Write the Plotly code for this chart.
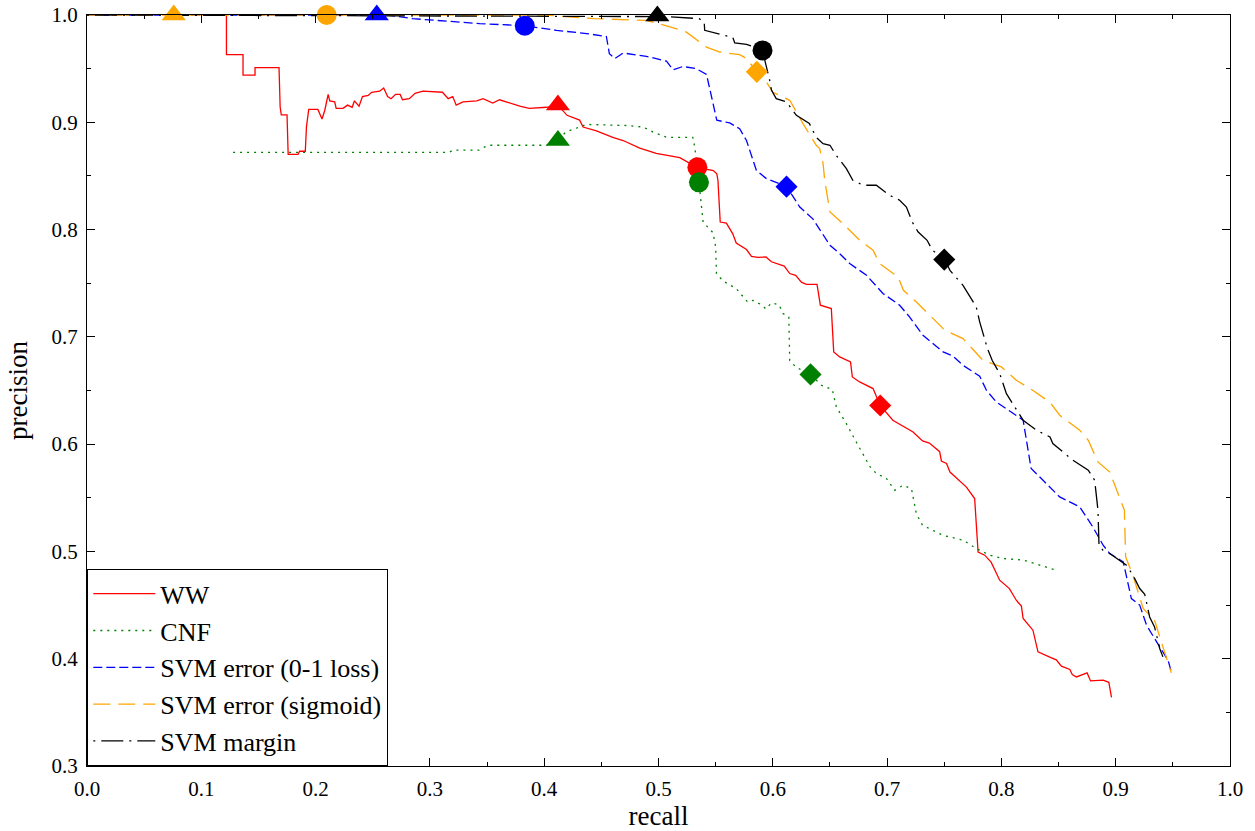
import plotly.graph_objects as go

# ---- data ----
ww_x = [0.118,0.122,0.122,0.1365,0.1365,0.147,0.147,0.168,0.169,0.170,0.175,0.176,0.1846,0.186,0.191,0.192,0.194,0.202,0.2056,0.208,0.211,0.2124,0.2167,0.218,0.224,0.228,0.232,0.234,0.238,0.241,0.246,0.249,0.256,0.2596,0.263,0.266,0.270,0.274,0.276,0.282,0.287,0.294,0.311,0.316,0.320,0.323,0.329,0.341,0.3465,0.355,0.361,0.3786,0.387,0.402,0.412,0.420,0.431,0.434,0.4457,0.460,0.469,0.4836,0.498,0.510,0.5186,0.5337,0.548,0.551,0.552,0.554,0.5594,0.565,0.568,0.577,0.5813,0.587,0.594,0.5988,0.610,0.6148,0.620,0.625,0.6294,0.6387,0.6416,0.6512,0.6533,0.6585,0.668,0.6696,0.676,0.6877,0.691,0.694,0.705,0.7196,0.7227,0.731,0.737,0.746,0.7475,0.752,0.755,0.7694,0.7766,0.7796,0.7854,0.791,0.7985,0.807,0.813,0.8175,0.819,0.8276,0.832,0.8433,0.848,0.8525,0.8599,0.862,0.8656,0.875,0.878,0.889,0.894,0.8963]
ww_y = [1.0,1.0,0.963,0.963,0.944,0.944,0.951,0.951,0.914,0.907,0.907,0.870,0.870,0.873,0.873,0.896,0.912,0.912,0.903,0.911,0.926,0.920,0.919,0.913,0.913,0.916,0.914,0.920,0.915,0.924,0.925,0.928,0.929,0.932,0.924,0.922,0.926,0.926,0.921,0.922,0.927,0.929,0.928,0.922,0.924,0.916,0.919,0.920,0.922,0.918,0.921,0.915,0.913,0.914,0.916,0.9065,0.902,0.8956,0.892,0.886,0.883,0.876,0.871,0.869,0.867,0.858,0.855,0.852,0.846,0.807,0.806,0.796,0.7875,0.7814,0.775,0.774,0.7745,0.770,0.766,0.759,0.7574,0.751,0.749,0.749,0.7295,0.7264,0.686,0.6813,0.6766,0.6626,0.658,0.6518,0.644,0.636,0.6223,0.6136,0.6114,0.603,0.601,0.593,0.5843,0.582,0.574,0.560,0.5493,0.4995,0.4965,0.490,0.4732,0.4654,0.4545,0.449,0.4375,0.4266,0.4064,0.401,0.399,0.393,0.390,0.3853,0.383,0.3868,0.3793,0.380,0.378,0.3639]

cnf_x = [0.1278,0.317,0.320,0.343,0.348,0.352,0.402,0.412,0.419,0.437,0.472,0.4865,0.495,0.507,0.530,0.5317,0.5354,0.5375,0.539,0.5477,0.55,0.5507,0.5565,0.568,0.578,0.5827,0.590,0.594,0.5988,0.6054,0.609,0.614,0.6148,0.6206,0.6329,0.6425,0.652,0.6556,0.6644,0.673,0.685,0.6906,0.6994,0.7067,0.714,0.7213,0.7256,0.731,0.749,0.7664,0.778,0.790,0.8014,0.819,0.8335,0.848]
cnf_y = [0.872,0.872,0.874,0.874,0.877,0.8786,0.8786,0.8832,0.891,0.898,0.897,0.8956,0.891,0.886,0.886,0.877,0.8444,0.8242,0.807,0.797,0.784,0.759,0.752,0.745,0.7325,0.734,0.730,0.726,0.7316,0.730,0.7217,0.7186,0.678,0.6714,0.6652,0.6549,0.651,0.6347,0.619,0.602,0.579,0.5726,0.568,0.557,0.5617,0.5586,0.535,0.5244,0.515,0.5105,0.5027,0.4965,0.4934,0.492,0.487,0.4825]

svm01_x = [0.0,0.262,0.285,0.3436,0.383,0.4107,0.437,0.4544,0.457,0.4617,0.469,0.4894,0.507,0.5127,0.5214,0.533,0.542,0.5448,0.551,0.5623,0.571,0.577,0.5857,0.5944,0.606,0.612,0.6236,0.635,0.650,0.6585,0.6673,0.682,0.6964,0.711,0.7196,0.7314,0.749,0.7577,0.7664,0.781,0.787,0.7956,0.819,0.826,0.8364,0.851,0.8685,0.880,0.889,0.8948,0.9066,0.9137,0.921,0.927,0.9385,0.9458,0.9487]
svm01_y = [1.0,1.0,0.9966,0.992,0.990,0.9857,0.9827,0.980,0.964,0.9594,0.9646,0.9615,0.957,0.949,0.952,0.950,0.9447,0.9314,0.9019,0.8994,0.894,0.883,0.855,0.8475,0.843,0.8404,0.821,0.810,0.7854,0.7776,0.7683,0.7574,0.7404,0.7295,0.7186,0.7015,0.686,0.682,0.6735,0.6633,0.650,0.6393,0.6223,0.5773,0.5663,0.5508,0.5416,0.5228,0.5058,0.498,0.4902,0.4561,0.450,0.4312,0.411,0.3986,0.3877]

sig_x = [0.0,0.40,0.4435,0.4894,0.5186,0.5244,0.542,0.5536,0.571,0.577,0.586,0.5944,0.600,0.609,0.6148,0.6264,0.638,0.641,0.644,0.6454,0.650,0.6614,0.676,0.6877,0.6935,0.7096,0.7143,0.7256,0.737,0.7505,0.7664,0.7839,0.800,0.813,0.8277,0.8425,0.851,0.8685,0.876,0.8845,0.8948,0.9076,0.9087,0.9151,0.924,0.934,0.9413,0.9487]
sig_y = [1.0,1.0,0.9966,0.995,0.9864,0.984,0.970,0.9655,0.963,0.9594,0.9469,0.9376,0.928,0.9236,0.9205,0.8988,0.8786,0.8755,0.8615,0.846,0.8164,0.8056,0.790,0.7807,0.7683,0.7558,0.7434,0.7325,0.720,0.7062,0.6984,0.678,0.672,0.6596,0.650,0.639,0.627,0.613,0.6036,0.5834,0.574,0.5384,0.4949,0.4778,0.4468,0.4359,0.411,0.3868]

marg_x = [0.0,0.507,0.5355,0.540,0.5404,0.5507,0.565,0.5667,0.577,0.5909,0.5958,0.5973,0.5988,0.603,0.612,0.6206,0.632,0.638,0.644,0.650,0.6556,0.6644,0.670,0.679,0.6906,0.702,0.711,0.7169,0.722,0.727,0.735,0.7396,0.7504,0.755,0.7664,0.778,0.781,0.7878,0.792,0.7985,0.8044,0.819,0.8306,0.8425,0.845,0.8626,0.876,0.8816,0.8845,0.8854,0.889,0.8948,0.9094,0.9151,0.921,0.9254,0.9297,0.934,0.9385,0.9413]
marg_y = [1.0,0.9985,0.9966,0.9935,0.9857,0.983,0.979,0.974,0.9727,0.9671,0.947,0.939,0.930,0.922,0.919,0.9065,0.8988,0.886,0.880,0.8786,0.869,0.8568,0.846,0.8413,0.8413,0.832,0.8273,0.821,0.807,0.798,0.790,0.7807,0.772,0.762,0.748,0.7279,0.714,0.689,0.678,0.6658,0.647,0.6223,0.613,0.6067,0.6006,0.585,0.5757,0.5663,0.5384,0.5058,0.501,0.498,0.4872,0.4778,0.4654,0.460,0.4389,0.4296,0.4095,0.4017]

# marker points per series: triangle, circle, diamond
ww_mk_x = [0.412, 0.534, 0.694]
ww_mk_y = [0.916, 0.858, 0.636]
cnf_mk_x = [0.412, 0.5354, 0.633]
cnf_mk_y = [0.883, 0.844, 0.665]
svm01_mk_x = [0.2535, 0.383, 0.612]
svm01_mk_y = [1.0, 0.990, 0.840]
sig_mk_x = [0.0759, 0.2097, 0.586]
sig_mk_y = [1.0, 1.0, 0.947]
marg_mk_x = [0.499, 0.591, 0.750]
marg_mk_y = [0.999, 0.967, 0.772]

names = ["WW", "CNF", "SVM error (0-1 loss)", "SVM error (sigmoid)", "SVM margin"]
x_ticks = [0.0,0.1,0.2,0.3,0.4,0.5,0.6,0.7,0.8,0.9,1.0]
y_ticks = [0.3,0.4,0.5,0.6,0.7,0.8,0.9,1.0]

FONT = "Liberation Serif, Times New Roman, serif"

series = [
    (ww_x, ww_y, ww_mk_x, ww_mk_y, "#ff0000", "solid"),
    (cnf_x, cnf_y, cnf_mk_x, cnf_mk_y, "#008000", "2px,5px"),
    (svm01_x, svm01_y, svm01_mk_x, svm01_mk_y, "#0000ff", "9px,4px"),
    (sig_x, sig_y, sig_mk_x, sig_mk_y, "#ffa500", "17px,8px"),
    (marg_x, marg_y, marg_mk_x, marg_mk_y, "#000000", "2px,6px,22px,6px"),
]

fig = go.Figure()
for (xs, ys, mx, my, col, dash), nm in zip(series, names):
    fig.add_trace(go.Scatter(x=xs, y=ys, mode="lines", name=nm,
                             line=dict(color=col, width=1.3, dash=dash)))
for (xs, ys, mx, my, col, dash), nm in zip(series, names):
    fig.add_trace(go.Scatter(x=mx, y=my, mode="markers", showlegend=False,
                             cliponaxis=False,
                             marker=dict(color=col, size=[21, 20, 17], opacity=1,
                                         symbol=["triangle-up", "circle", "diamond"],
                                         line=dict(width=0))))

axis_common = dict(
    showline=True, linecolor="black", linewidth=1.3, mirror="ticks",
    ticks="inside", ticklen=8, tickwidth=1, tickcolor="black",
    showgrid=False, zeroline=False, automargin=False,
    ticklabeloverflow="allow",
    tickfont=dict(family=FONT, size=21, color="black"),
    minor=dict(ticks="inside", ticklen=4, tickcolor="black", dtick=0.05, showgrid=False),
)

fig.update_xaxes(range=[0, 1], tickvals=x_ticks, ticktext=[f"{v:.1f}" for v in x_ticks],
                 title=dict(text="recall", font=dict(family=FONT, size=27, color="black"), standoff=2),
                 ticklabelstandoff=4,
                 **axis_common)
fig.update_yaxes(range=[0.3, 1.0], tickvals=y_ticks, ticktext=[f"{v:.1f}" for v in y_ticks],
                 title=dict(text="precision", font=dict(family=FONT, size=27, color="black"), standoff=15),
                 ticklabelstandoff=4,
                 **axis_common)

fig.update_layout(
    width=1255, height=831,
    margin=dict(l=87, r=25, t=15, b=65),
    paper_bgcolor="white", plot_bgcolor="white",
    font=dict(family=FONT, color="black"),
    legend=dict(x=0, y=0, xanchor="left", yanchor="bottom",
                bordercolor="black", borderwidth=1.3, bgcolor="white",
                font=dict(family=FONT, size=26, color="black"),
                itemwidth=62, tracegroupgap=0),
)

# remove the browser's default 8px page margin so the figure starts at the window corner
fig.write_html("out.html", config={"displayModeBar": False},
               post_script="document.body.style.margin='0px';")
